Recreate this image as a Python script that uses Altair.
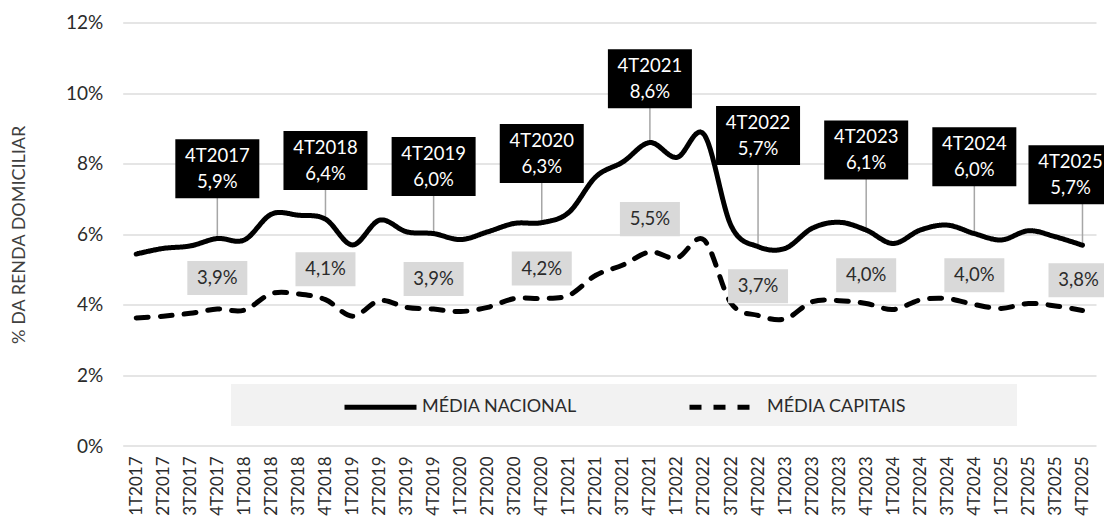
import altair as alt
import pandas as pd

# ---------------- data ----------------
quarters = [
    "1T2017", "2T2017", "3T2017", "4T2017",
    "1T2018", "2T2018", "3T2018", "4T2018",
    "1T2019", "2T2019", "3T2019", "4T2019",
    "1T2020", "2T2020", "3T2020", "4T2020",
    "1T2021", "2T2021", "3T2021", "4T2021",
    "1T2022", "2T2022", "3T2022", "4T2022",
    "1T2023", "2T2023", "3T2023", "4T2023",
    "1T2024", "2T2024", "3T2024", "4T2024",
    "1T2025", "2T2025", "3T2025", "4T2025",
]

media_nacional = [
    5.44, 5.60, 5.67, 5.88,
    5.84, 6.57, 6.54, 6.43,
    5.70, 6.40, 6.07, 6.02,
    5.85, 6.07, 6.31, 6.33,
    6.62, 7.63, 8.05, 8.60,
    8.18, 8.83, 6.25, 5.65,
    5.60, 6.17, 6.34, 6.12,
    5.74, 6.12, 6.26, 6.02,
    5.84, 6.10, 5.93, 5.69,
]

media_capitais = [
    3.63, 3.68, 3.76, 3.88,
    3.85, 4.32, 4.31, 4.15,
    3.68, 4.12, 3.93, 3.88,
    3.81, 3.93, 4.18, 4.18,
    4.27, 4.84, 5.13, 5.50,
    5.33, 5.84, 4.05, 3.70,
    3.60, 4.09, 4.12, 4.04,
    3.87, 4.14, 4.18, 4.01,
    3.90, 4.04, 3.97, 3.84,
]

series_names = ["MÉDIA NACIONAL", "MÉDIA CAPITAIS"]

# annotations (4th quarter of each year)
ann_quarters = ["4T2017", "4T2018", "4T2019", "4T2020", "4T2021",
                "4T2022", "4T2023", "4T2024", "4T2025"]
ann_nacional = [5.9, 6.4, 6.0, 6.3, 8.6, 5.7, 6.1, 6.0, 5.7]
ann_capitais = [3.9, 4.1, 3.9, 4.2, 5.5, 3.7, 4.0, 4.0, 3.8]
# height (in % units) at which each callout box is centred
ann_nacional_box = [7.86, 8.09, 7.92, 8.29, 10.41, 8.80, 8.39, 8.20, 7.69]
ann_capitais_box = [4.76, 5.01, 4.73, 5.03, 6.43, 4.53, 4.84, 4.84, 4.70]

y_ticks = [0, 2, 4, 6, 8, 10, 12]

# ---------------- tables ----------------
def pct(v):
    return f"{v:.1f}".replace(".", ",") + "%"

lines_df = pd.DataFrame(
    [{"quarter": q, "serie": series_names[0], "valor": v, "ordem": i}
     for i, (q, v) in enumerate(zip(quarters, media_nacional))]
    + [{"quarter": q, "serie": series_names[1], "valor": v, "ordem": i}
       for i, (q, v) in enumerate(zip(quarters, media_capitais))]
)

ann_df = pd.DataFrame({
    "quarter": ann_quarters,
    "ponto": [media_nacional[quarters.index(q)] for q in ann_quarters],
    "box_nac": ann_nacional_box,
    "box_cap": ann_capitais_box,
    "txt_nac": [pct(v) for v in ann_nacional],
    "txt_cap": [pct(v) for v in ann_capitais],
})

# ---------------- layout constants ----------------
W, H = 973.3, 423.4
FONT = "Lato"
TXT = "#2b2b2b"
LAST = quarters[-1]

x_enc = alt.X(
    "quarter:O",
    sort=quarters,
    scale=alt.Scale(type="point", domain=quarters, padding=0.5),
    axis=alt.Axis(
        title=None, labelAngle=270, labelAlign="right", labelBaseline="middle",
        labelPadding=10, ticks=False, tickSize=0, domain=False, grid=False,
        labelFont=FONT, labelFontSize=17, labelColor=TXT,
    ),
)
x_ann = alt.X("quarter:O", sort=quarters)

y_scale = alt.Scale(domain=[0, 12], nice=False, zero=True)
y_axis = alt.Axis(
    values=y_ticks, labelExpr="datum.value + '%'",
    grid=True, gridColor="#dcdcdc", gridWidth=1.5,
    domain=False, ticks=False, tickSize=0, labelPadding=20,
    labelFont=FONT, labelFontSize=19, labelColor=TXT,
    title="% DA RENDA DOMICILIAR", titleFont=FONT, titleFontSize=18,
    titleFontWeight="normal", titleColor="#404040",
    titleAngle=270, titleAlign="center", titleBaseline="middle",
    titleX=-103, titleY=H / 2,
)

# legend background panel (decoration)
legend_bg = alt.Chart(pd.DataFrame({"a": [0]})).mark_rect(color="#f2f2f2").encode(
    x=alt.value(108.3), x2=alt.value(894.3), y=alt.value(361.4), y2=alt.value(403.4)
)

leaders = alt.Chart(ann_df).mark_rule(color="#a6a6a6", strokeWidth=1.5).encode(
    x=x_ann,
    y=alt.Y("ponto:Q", scale=y_scale, axis=y_axis),
    y2="box_nac:Q",
)

lines = alt.Chart(lines_df).mark_line(
    interpolate="cardinal", strokeWidth=5, strokeCap="round", color="black"
).encode(
    x=x_enc,
    y=alt.Y("valor:Q", scale=y_scale, axis=y_axis),
    strokeDash=alt.StrokeDash(
        "serie:N",
        scale=alt.Scale(domain=series_names, range=[[1, 0], [12, 12]]),
        legend=alt.Legend(
            title=None, orient="none", direction="horizontal",
            legendX=219.3, legendY=346,
            symbolType="stroke", symbolSize=5184, symbolStrokeWidth=5,
            symbolStrokeColor="black",
            labelFont=FONT, labelFontSize=18, labelColor=TXT, labelOffset=3,
            columnPadding=102, padding=0,
        ),
    ),
    detail="serie:N",
    order="ordem:Q",
)


def black_callouts(flt, shift):
    """Black callout boxes; `shift` nudges the box left (px) so it stays on the page."""
    k = shift / 42.0
    path = f"M{-1 - k:.3f},-0.702L{1 - k:.3f},-0.702L{1 - k:.3f},0.702L{-1 - k:.3f},0.702Z"
    base = alt.Chart(ann_df).transform_filter(flt)
    box = base.mark_point(
        shape=path, size=7056, filled=True, fill="black", strokeWidth=0, opacity=1
    ).encode(x=x_ann, y=alt.Y("box_nac:Q", scale=y_scale))
    t1 = base.mark_text(
        font=FONT, fontSize=18.5, color="white", dy=-13, dx=-shift, baseline="middle"
    ).encode(x=x_ann, y=alt.Y("box_nac:Q", scale=y_scale), text="quarter:N")
    t2 = base.mark_text(
        font=FONT, fontSize=18.5, color="white", dy=13, dx=-shift, baseline="middle"
    ).encode(x=x_ann, y=alt.Y("box_nac:Q", scale=y_scale), text="txt_nac:N")
    return [box, t1, t2]


def gray_callouts(flt, shift):
    k = shift / 30.0
    path = f"M{-1 - k:.3f},-0.567L{1 - k:.3f},-0.567L{1 - k:.3f},0.567L{-1 - k:.3f},0.567Z"
    base = alt.Chart(ann_df).transform_filter(flt)
    box = base.mark_point(
        shape=path, size=3600, filled=True, fill="#d9d9d9", strokeWidth=0, opacity=1
    ).encode(x=x_ann, y=alt.Y("box_cap:Q", scale=y_scale))
    t = base.mark_text(
        font=FONT, fontSize=18.5, color=TXT, dx=-shift, baseline="middle"
    ).encode(x=x_ann, y=alt.Y("box_cap:Q", scale=y_scale), text="txt_cap:N")
    return [box, t]


inner = f"datum.quarter != '{LAST}'"
edge = f"datum.quarter == '{LAST}'"

layers = (
    [legend_bg, leaders, lines]
    + black_callouts(inner, 0) + black_callouts(edge, 12)
    + gray_callouts(inner, 0) + gray_callouts(edge, 4)
)

chart = alt.layer(*layers).properties(
    width=W, height=H,
    autosize=alt.AutoSizeParams(type="none"),
    padding={"left": 114.7, "top": 14.6, "right": 8, "bottom": 71},
    background="white",
).configure_view(stroke=None)

chart.save("out.html", embed_options={"renderer": "svg", "actions": False})
